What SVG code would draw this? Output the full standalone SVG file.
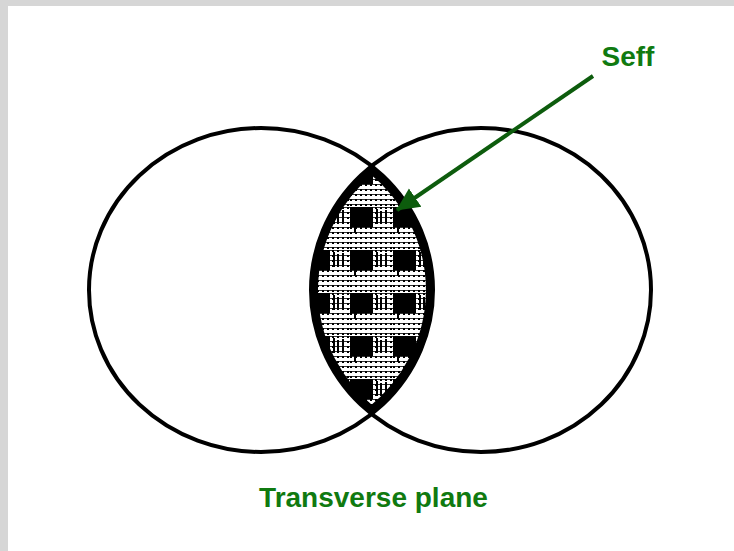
<svg xmlns="http://www.w3.org/2000/svg" width="734" height="551" viewBox="0 0 734 551">
  <style>
    .ring { fill: none; stroke: #000; stroke-width: 4; }
    .lbl { font-family: "Liberation Sans", Arial, sans-serif; font-weight: bold; fill: #107a10; text-anchor: middle; }
    .conn { stroke: #0d5c0d; stroke-width: 4; fill: none; }
  </style>
  <defs>
    <pattern id="mesh" patternUnits="userSpaceOnUse" width="5" height="5">
      <rect width="5" height="5" fill="#fff"/>
      <rect x="0" y="0" width="2" height="2" fill="#000"/>
      <rect x="2" y="0" width="3" height="0.8" fill="#000"/>
    </pattern>
    <pattern id="checks" patternUnits="userSpaceOnUse" x="350" y="207" width="43" height="43">
      <rect width="43" height="43" fill="url(#mesh)"/>
      <rect x="0" y="0" width="23" height="20" fill="#000"/>
      <rect x="4" y="20" width="2" height="6" fill="#000"/>
      <rect x="16" y="-3" width="2" height="5" fill="#000"/>
      <rect x="26" y="2" width="2" height="15" fill="#000"/>
      <rect x="30" y="4" width="2" height="12" fill="#000"/>
      <rect x="35" y="3" width="2" height="14" fill="#000"/>
    </pattern>
    <clipPath id="lensClip">
      <path d="M371.6,166 A172,162 0 0 1 371.6,414 A170,162 0 0 1 371.6,166 Z"/>
    </clipPath>
    <marker id="arrowHead" markerUnits="userSpaceOnUse" markerWidth="24" markerHeight="24" refX="22" refY="12" orient="auto">
      <path d="M0,1 L23,12 L0,23 Z" fill="#0d5c0d"/>
    </marker>
  </defs>
  <rect x="0" y="0" width="734" height="551" fill="#d6d6d6"/>
  <rect x="8" y="6" width="726" height="545" fill="#fff"/>

  <g id="lens">
    <path d="M371.6,166 A172,162 0 0 1 371.6,414 A170,162 0 0 1 371.6,166 Z" fill="url(#checks)"/>
    <path d="M371.6,166 A172,162 0 0 1 371.6,414 A170,162 0 0 1 371.6,166 Z" fill="none" stroke="#000" stroke-width="14" clip-path="url(#lensClip)"/>
  </g>
  <g id="circle-left">
    <ellipse class="ring" cx="261" cy="290" rx="172" ry="162"/>
  </g>
  <g id="circle-right">
    <ellipse class="ring" cx="481" cy="290" rx="170" ry="162"/>
  </g>

  <g id="connectors">
    <line class="conn" x1="593" y1="76" x2="397" y2="210" marker-end="url(#arrowHead)"/>
  </g>

  <g id="label-seff">
    <text class="lbl" x="628" y="66" font-size="28">Seff</text>
  </g>
  <g id="label-transverse">
    <text class="lbl" x="373.5" y="507" font-size="28">Transverse plane</text>
  </g>
</svg>
